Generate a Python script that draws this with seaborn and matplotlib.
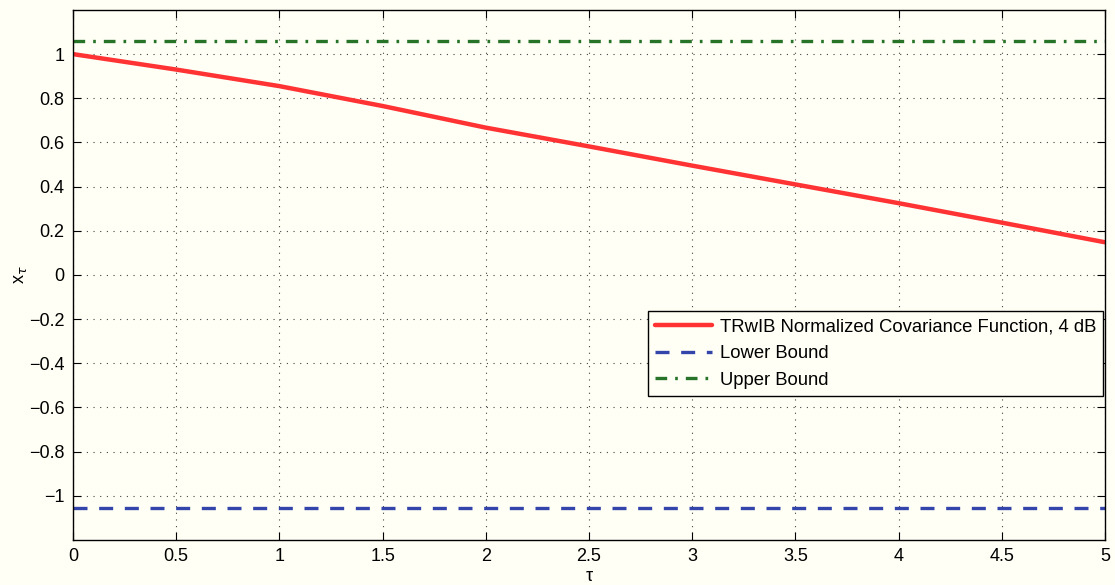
import numpy as np
import pandas as pd
import matplotlib
matplotlib.use("Agg")
import matplotlib.pyplot as plt
import seaborn as sns

# data
tau = [0, 0.5, 1, 1.5, 2, 2.5, 3, 3.5, 4, 4.5, 5]
cov_4db = [1.0, 0.93, 0.855, 0.765, 0.667, 0.582, 0.495, 0.41, 0.325, 0.237, 0.148]
bound_tau = [0, 5]
lower_bound = [-1.057, -1.057]
upper_bound = [1.058, 1.058]

x_ticks = [0, 0.5, 1, 1.5, 2, 2.5, 3, 3.5, 4, 4.5, 5]
x_ticklabels = ["0", "0.5", "1", "1.5", "2", "2.5", "3", "3.5", "4", "4.5", "5"]
y_ticks = [-1, -0.8, -0.6, -0.4, -0.2, 0, 0.2, 0.4, 0.6, 0.8, 1]
y_ticklabels = ["\u22121", "\u22120.8", "\u22120.6", "\u22120.4", "\u22120.2", "0",
                "0.2", "0.4", "0.6", "0.8", "1"]

BG = "#fffff5"

sns.set_style("ticks")
plt.rcParams['font.family'] = ['Liberation Sans', 'DejaVu Sans']
plt.rcParams['xtick.direction'] = 'in'
plt.rcParams['ytick.direction'] = 'in'
plt.rcParams['text.color'] = 'black'
plt.rcParams['axes.labelcolor'] = 'black'
plt.rcParams['xtick.color'] = 'black'
plt.rcParams['ytick.color'] = 'black'

fig = plt.figure(figsize=(11.15, 5.85), dpi=100, facecolor=BG)
ax = fig.add_axes([0.0655, 0.077, 0.9255, 0.906])
ax.set_facecolor(BG)

sns.lineplot(x=tau, y=cov_4db, ax=ax, color="#ff3333", linewidth=3.2,
             label="TRwIB Normalized Covariance Function, 4 dB")
sns.lineplot(x=bound_tau, y=lower_bound, ax=ax, color="#3344aa", linewidth=2.4,
             label="Lower Bound")
ax.lines[-1].set_dashes([4.2, 3.5])
sns.lineplot(x=bound_tau, y=upper_bound, ax=ax, color="#277327", linewidth=2.4,
             label="Upper Bound")
ax.lines[-1].set_dashes([3.5, 2.4, 0.8, 2.4])

ax.set_xlim(0, 5)
ax.set_ylim(-1.2, 1.2)
ax.set_xticks(x_ticks)
ax.set_xticklabels(x_ticklabels)
ax.set_yticks(y_ticks)
ax.set_yticklabels(y_ticklabels)
ax.tick_params(labelsize=13, length=6, width=0.8, top=True, right=True, pad=6)
ax.grid(True, linestyle=(0, (1, 5)), color="#444444", linewidth=0.8)
for s in ax.spines.values():
    s.set_visible(True)
    s.set_linewidth(1.0)
    s.set_color("black")

ax.set_xlabel("\u03c4", fontsize=13, labelpad=2)
ax.set_ylabel("x$_{\\tau}$", fontsize=13, labelpad=0)

leg = ax.legend(loc="upper right", bbox_to_anchor=(0.9985, 0.432), fontsize=13.3,
                frameon=True, fancybox=False, framealpha=1, edgecolor="black",
                facecolor=BG, handlelength=3.1, borderpad=0.4, labelspacing=0.52,
                handletextpad=0.4, borderaxespad=0)
leg.get_frame().set_linewidth(1.0)

fig.savefig("out.png", dpi=100, facecolor=BG)
